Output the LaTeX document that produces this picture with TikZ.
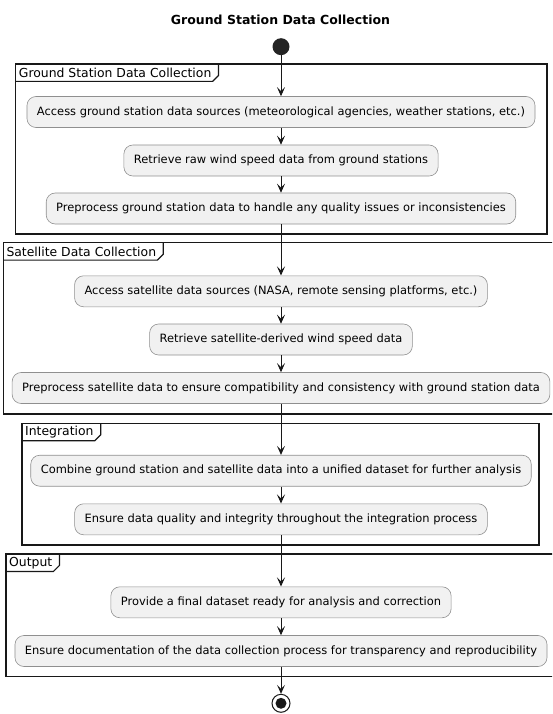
\documentclass[tikz,border=0pt]{standalone}
\usepackage{fontspec}
\setmainfont{DejaVu Sans}
\usetikzlibrary{arrows.meta}
\definecolor{actfill}{HTML}{F1F1F1}
\definecolor{actline}{HTML}{8F8F8F}
\definecolor{ink}{HTML}{181818}
\def\drawpartition[#1](#2)(#3)#4{\draw[partframe] (#2) rectangle (#3); \node[parttab, anchor=north west] (#1) at (#2) {#4}; \draw[partframe] (#1.south west) -- ([xshift=-2pt]#1.south east) -- ([xshift=4pt,yshift=6pt]#1.south east) -- ([xshift=4pt]#1.north east);}

\begin{document}
\begin{tikzpicture}[x=1pt, y=-1pt,
		act/.style={draw=actline, line width=0.6pt, fill=actfill, rounded corners=9pt, minimum height=31pt, inner xsep=10pt, font=\fontsize{11.45}{13}\selectfont},
		partframe/.style={draw=ink, line width=1.2pt},
		parttab/.style={inner xsep=3pt, inner ysep=0pt, minimum height=17pt, font=\fontsize{12.4}{14}\selectfont},
		flowarrow/.style={draw=ink, line width=0.9pt, -{Stealth[length=9pt, width=8pt, inset=4pt]}}]
		%%%%% START %%%%%
		
		\useasboundingbox (0, 0) rectangle (552, 714);
		\clip (0, 0) rectangle (552, 714);
		
		\node[font=\bfseries\fontsize{12.5}{15}\selectfont] (title) at (280.5, 20) {Ground Station Data Collection};
		\node[circle, fill=ink!95, minimum size=17pt, inner sep=0pt] (start) at (281, 46.7) {};
		
		\drawpartition[gsdc](15.7, 64)(547, 234){Ground Station Data Collection}
		\node[act] (gs1) at (281, 112) {Access ground station data sources (meteorological agencies, weather stations, etc.)};
		\node[act] (gs2) at (281, 160.5) {Retrieve raw wind speed data from ground stations};
		\node[act] (gs3) at (281, 208.5) {Preprocess ground station data to handle any quality issues or inconsistencies};
		
		\drawpartition[sdc](3.3, 242.7)(560, 414){Satellite Data Collection}
		\node[act] (sat1) at (281, 291.3) {Access satellite data sources (NASA, remote sensing platforms, etc.)};
		\node[act] (sat2) at (281, 339.5) {Retrieve satellite-derived wind speed data};
		\node[act] (sat3) at (281, 388) {Preprocess satellite data to ensure compatibility and consistency with ground station data};
		
		\drawpartition[integ](22, 423.3)(539, 545){Integration}
		\node[act] (int1) at (281, 470.7) {Combine ground station and satellite data into a unified dataset for further analysis};
		\node[act] (int2) at (281, 519.3) {Ensure data quality and integrity throughout the integration process};
		
		\drawpartition[outp](6, 554)(560, 676.7){Output}
		\node[act] (out1) at (281, 602.3) {Provide a final dataset ready for analysis and correction};
		\node[act] (out2) at (281, 651) {Ensure documentation of the data collection process for transparency and reproducibility};
		
		\node[circle, draw=ink, line width=1pt, minimum size=18pt, inner sep=0pt, path picture={\fill[ink] (path picture bounding box.center) circle (5.5pt);}] (stop) at (281, 703.3) {};
		
		\draw[flowarrow] (start) -- (gs1);
		\draw[flowarrow] (gs1) -- (gs2);
		\draw[flowarrow] (gs2) -- (gs3);
		\draw[flowarrow] (gs3) -- (sat1);
		\draw[flowarrow] (sat1) -- (sat2);
		\draw[flowarrow] (sat2) -- (sat3);
		\draw[flowarrow] (sat3) -- (int1);
		\draw[flowarrow] (int1) -- (int2);
		\draw[flowarrow] (int2) -- (out1);
		\draw[flowarrow] (out1) -- (out2);
		\draw[flowarrow] (out2) -- (stop);
		
		%%%%% END %%%%%
	\end{tikzpicture}
\end{document}
